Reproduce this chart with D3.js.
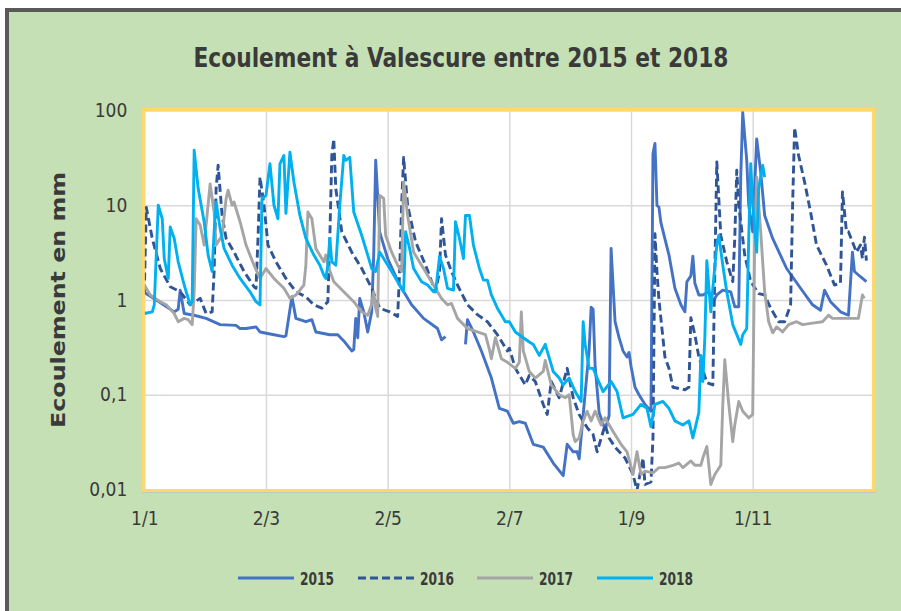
<!DOCTYPE html>
<html>
<head>
<meta charset="utf-8">
<script src="https://cdn.jsdelivr.net/npm/d3@7"></script>
<style>
  body { margin: 0; background: #fff; }
  svg { display: block; }
  text { font-family: "Liberation Sans Narrow", "DejaVu Sans Condensed", "Liberation Sans", sans-serif; fill: #3a3a3a; }
</style>
</head>
<body>
<svg width="901" height="611"></svg>
<script>
// day index (0 = 1 Jan) and flow in mm
const q2015 = [[0,1.2],[6,1.0],[15,0.75],[17,0.8],[18,1.27],[20,0.72],[25,0.69],[31,0.64],[38,0.55],[46,0.54],[48,0.5],[51,0.5],[56,0.52],[58,0.46],[65,0.43],[70,0.41],[71,0.42],[74,1.08],[76,0.64],[81,0.59],[84,0.62],[86,0.46],[93,0.43],[97,0.43],[100,0.37],[104,0.29],[105,0.3],[106,0.64],[107,0.4],[108,1.04],[110,0.75],[112,0.46],[114,0.75],[115,3],[116,29.8],[118,5.2],[122,2.74],[128,1.44],[134,0.89],[140,0.64],[147,0.5],[149,0.38],[151,0.41],[152,null],[161,0.34],[162,0.62],[165,0.46],[169,0.29],[174,0.15],[178,0.072],[182,0.067],[185,0.05],[188,0.052],[191,0.05],[195,0.03],[200,0.028],[205,0.019],[210,0.014],[212,0.03],[215,0.025],[217,0.025],[218,0.021],[223,0.3],[224,0.84],[225,0.8],[226,0.2],[228,0.065],[231,0.043],[233,0.06],[234,3.5],[236,0.59],[238,0.4],[240,0.29],[242,0.25],[243,0.28],[244,0.2],[246,0.12],[248,0.1],[251,0.079],[254,0.067],[255,35],[256,45],[257,10],[258,9.5],[259,6.5],[263,3.0],[266,1.33],[269,0.89],[271,0.75],[272,1.56],[274,1.8],[275,2.9],[276,1.5],[278,1.13],[280,1.13],[283,1.22],[285,0.96],[287,1.13],[290,1.27],[294,1.22],[296,0.85],[298,0.85],[299,20],[300,95],[302,30],[303,10],[305,5.25],[307,50],[309,22.4],[311,7.8],[315,4.46],[322,2.15],[329,1.33],[335,0.89],[339,0.78],[341,1.27],[344,0.96],[349,0.75],[353,0.69],[354,1.5],[355,3.2],[356,2.0],[359,1.76],[362,1.56]];

const q2016 = [[0,1.2],[1,9.5],[4,4.46],[8,2.15],[13,1.38],[18,1.22],[23,0.89],[28,1.04],[31,0.72],[34,0.75],[35,2.0],[36,15],[37,26.4],[39,7.8],[41,4.46],[45,3.2],[50,2.0],[55,1.38],[56,1.33],[57,4.46],[58,19.8],[60,10],[62,3.8],[66,2.53],[71,1.69],[76,1.22],[81,1.08],[85,0.89],[89,0.82],[92,0.96],[93,4.46],[94,33.5],[95,50],[96,15],[99,5.25],[104,3.2],[109,2.15],[114,1.33],[118,0.82],[123,0.75],[127,0.67],[128,2.0],[129,10],[130,32],[132,10],[136,4.1],[141,2.33],[146,1.22],[148,2.0],[149,7.2],[151,2.98],[154,2.0],[157,1.44],[162,0.89],[167,0.7],[172,0.59],[177,0.43],[182,0.29],[183,0.31],[186,0.19],[191,0.127],[193,0.16],[196,0.138],[200,0.079],[202,0.062],[204,0.138],[208,0.093],[212,0.19],[215,0.093],[218,0.062],[222,0.045],[225,0.038],[227,0.025],[231,0.048],[233,0.035],[236,0.028],[241,0.0215],[245,0.0144],[247,0.0098],[250,0.0215],[251,0.0113],[254,0.012],[255,0.035],[256,5],[257,2.0],[258,1.0],[261,0.25],[263,0.19],[265,0.12],[271,0.113],[273,0.12],[274,0.65],[276,0.43],[278,0.25],[282,0.134],[285,0.127],[286,2],[287,28.6],[289,4.8],[292,2.53],[295,1.56],[296,4.46],[297,23.4],[298,10],[301,2.98],[304,1.56],[308,1.17],[311,1.13],[314,0.82],[318,0.59],[321,0.59],[324,0.89],[325,10],[326,66],[328,33.5],[331,17.6],[334,8.5],[337,3.8],[342,2.33],[346,1.44],[349,1.5],[350,13.8],[352,5.25],[353,5.25],[355,4.1],[357,3.2],[359,3.8],[360,2.74],[361,4.6],[362,2.6]];

const q2017 = [[0,1.44],[3,1.13],[8,0.96],[11,0.89],[15,0.72],[17,0.59],[20,0.64],[22,0.62],[24,0.55],[25,1.22],[26,7.2],[28,6.2],[30,3.8],[33,16.8],[35,8.5],[36,3.8],[39,4.8],[41,11.7],[42,14.4],[44,10],[45,10.8],[48,6.7],[51,3.8],[55,2.33],[58,1.69],[61,2.15],[65,1.69],[70,1.33],[73,1.04],[76,1.13],[78,1.27],[80,1.44],[81,2.33],[82,8.5],[84,7.2],[86,3.5],[89,2.74],[90,2.53],[91,2.98],[92,2.33],[95,1.56],[100,1.22],[105,0.96],[109,0.75],[112,0.69],[114,0.9],[115,1.22],[116,0.82],[117,0.67],[118,12.7],[120,11.8],[121,4.8],[124,3.2],[127,2.33],[129,2.0],[130,17.6],[132,7.8],[135,3.2],[139,2.33],[144,1.56],[149,1.04],[152,0.89],[154,0.92],[157,0.64],[162,0.5],[167,0.46],[171,0.43],[173,0.3],[174,0.24],[176,0.4],[179,0.24],[182,0.22],[186,0.19],[188,0.22],[189,0.75],[190,0.29],[193,0.176],[196,0.15],[200,0.176],[201,0.23],[204,0.127],[208,0.1],[211,0.093],[213,0.1],[215,0.038],[216,0.032],[218,0.035],[220,0.053],[222,0.067],[224,0.053],[226,0.067],[229,0.048],[231,0.057],[235,0.041],[239,0.03],[242,0.025],[245,0.0144],[247,0.025],[249,0.0144],[251,0.0156],[255,0.015],[258,0.017],[261,0.017],[265,0.018],[268,0.019],[270,0.017],[274,0.02],[276,0.018],[279,0.018],[280,0.0215],[282,0.0285],[283,0.018],[284,0.0113],[286,0.0144],[289,0.018],[290,0.079],[291,0.234],[293,0.079],[295,0.032],[296,0.048],[298,0.085],[300,0.067],[303,0.057],[305,0.062],[306,4.46],[307,19.8],[309,5.25],[311,1.22],[313,0.59],[315,0.45],[317,0.52],[320,0.46],[323,0.55],[327,0.59],[330,0.55],[335,0.57],[340,0.59],[343,0.69],[345,0.64],[350,0.64],[355,0.64],[358,0.64],[360,1.13],[361,1.04]];

const q2018 = [[0,0.72],[4,0.75],[5,0.89],[7,10],[9,7.2],[10,2.74],[12,1.69],[13,5.9],[15,4.46],[17,2.53],[20,1.44],[23,0.89],[24,0.96],[25,38],[27,15],[30,6.7],[32,2.98],[34,2.0],[35,5.25],[36,10.8],[38,5.7],[40,3.5],[44,2.33],[48,1.69],[53,1.22],[56,0.96],[58,0.89],[59,11.7],[61,12.7],[63,27.4],[65,10],[67,7.2],[68,27.4],[70,33.5],[71,8.2],[73,36.3],[75,17.6],[78,7.8],[81,4.46],[85,2.98],[88,2.33],[90,1.83],[91,1.69],[92,2.33],[93,4.46],[94,2.53],[96,2.33],[98,10],[100,33.5],[101,29.8],[103,32],[105,8.5],[109,4.8],[112,2.98],[114,2.15],[116,2.0],[118,3.2],[120,2.74],[124,2.0],[127,1.56],[130,1.22],[131,5.25],[133,3.5],[135,2.15],[139,1.56],[142,1.44],[145,1.22],[146,1.22],[148,2.86],[150,2.15],[152,1.33],[155,1.27],[156,6.7],[158,4.46],[160,2.74],[161,7.8],[163,7.8],[165,3.8],[168,2.15],[170,1.62],[172,1.62],[174,1.13],[177,0.82],[181,0.59],[183,0.59],[186,0.46],[190,0.4],[193,0.36],[195,0.34],[198,0.26],[201,0.34],[205,0.176],[208,0.15],[210,0.127],[213,0.15],[216,0.108],[219,0.085],[220,0.59],[221,0.34],[223,0.19],[225,0.19],[227,0.15],[230,0.108],[234,0.138],[237,0.108],[240,0.057],[245,0.062],[249,0.079],[252,0.072],[254,0.046],[256,0.079],[260,0.085],[263,0.072],[266,0.053],[270,0.048],[273,0.053],[275,0.035],[277,0.053],[278,0.065],[279,0.26],[280,0.138],[281,0.4],[282,2.6],[284,0.75],[285,1.33],[287,3.8],[288,4.8],[290,2.33],[292,1.22],[295,0.55],[299,0.34],[300,0.43],[302,0.5],[303,4.46],[304,27.4],[305,10],[307,3.2],[308,15],[310,26.4],[311,19.8]];

const tickDays = [0, 61, 122, 183, 244, 305];
const tickLabels = ['1/1', '2/3', '2/5', '2/7', '1/9', '1/11'];
const yTicks = [0.01, 0.1, 1, 10, 100];
const yTickLabels = ['0,01', '0,1', '1', '10', '100'];

const series = [
  { name: '2015', data: q2015, color: '#4472c4', dash: null },
  { name: '2016', data: q2016, color: '#2f5597', dash: '8,4' },
  { name: '2017', data: q2017, color: '#a5a5a5', dash: null },
  { name: '2018', data: q2018, color: '#00b0f0', dash: null }
];

const svg = d3.select('svg');
const plotL = 144.3, plotR = 872.4, plotT = 110.5, plotB = 489.5;

// outer chart area
svg.append('rect').attr('x', 7).attr('y', 10).attr('width', 1000).attr('height', 1000)
  .attr('fill', '#c5e0b4').attr('stroke', '#595959').attr('stroke-width', 4);

const xScale = d3.scaleLinear().domain([0, 365]).range([plotL, plotR]);
const yScale = d3.scaleLog().domain([0.01, 100]).range([plotB, plotT]);

svg.append('rect').attr('x', plotL).attr('y', plotT).attr('width', plotR - plotL).attr('height', plotB - plotT)
  .attr('fill', '#fff');

// gridlines
const gridX = d3.axisBottom(xScale).tickValues(tickDays).tickSize(-(plotB - plotT)).tickFormat('');
const gridY = d3.axisLeft(yScale).tickValues(yTicks).tickSize(-(plotR - plotL)).tickFormat('');
svg.append('g').attr('transform', `translate(0,${plotB})`).call(gridX)
  .call(g => g.select('.domain').remove())
  .selectAll('line').attr('stroke', '#d9d9d9').attr('stroke-width', 1.5);
svg.append('g').attr('transform', `translate(${plotL},0)`).call(gridY)
  .call(g => g.select('.domain').remove())
  .selectAll('line').attr('stroke', '#d9d9d9').attr('stroke-width', 1.5);

svg.append('clipPath').attr('id', 'plot')
  .append('rect').attr('x', plotL).attr('y', plotT - 1).attr('width', plotR - plotL).attr('height', plotB - plotT + 1);

const line = d3.line()
  .defined(d => d[1] != null)
  .x(d => xScale(d[0]))
  .y(d => yScale(d[1]));

const lines = svg.append('g').attr('clip-path', 'url(#plot)');
series.forEach(s => {
  lines.append('path')
    .attr('d', line(s.data))
    .attr('fill', 'none')
    .attr('stroke', s.color)
    .attr('stroke-width', 2.9)
    .attr('stroke-linejoin', 'round')
    .attr('stroke-dasharray', s.dash);
});

// frame
svg.append('line').attr('x1', plotL - 2).attr('x2', plotR + 3).attr('y1', plotB + 2.5).attr('y2', plotB + 2.5)
  .attr('stroke', '#bfbfbf').attr('stroke-width', 1.5);
svg.append('rect').attr('x', plotL - 1).attr('y', plotT - 1).attr('width', plotR - plotL + 2).attr('height', plotB - plotT + 2)
  .attr('fill', 'none').attr('stroke', '#ffd966').attr('stroke-width', 3);

// axis labels
const xAxis = d3.axisBottom(xScale).tickValues(tickDays).tickSize(0).tickPadding(22)
  .tickFormat((d, i) => tickLabels[i]);
svg.append('g').attr('transform', `translate(0,${plotB})`).call(xAxis)
  .call(g => g.select('.domain').remove())
  .attr('font-family', null)
  .selectAll('text').style('font-size', '19px').attr('fill', '#262626');

const yAxis = d3.axisLeft(yScale).tickValues(yTicks).tickSize(0).tickPadding(17)
  .tickFormat((d, i) => yTickLabels[i]);
svg.append('g').attr('transform', `translate(${plotL},0)`).call(yAxis)
  .call(g => g.select('.domain').remove())
  .attr('font-family', null)
  .selectAll('text').style('font-size', '19px').attr('fill', '#262626');

svg.append('text')
  .attr('x', 461).attr('y', 67)
  .attr('text-anchor', 'middle')
  .attr('textLength', 535).attr('lengthAdjust', 'spacingAndGlyphs')
  .style('font-size', '27px').style('font-weight', 'bold')
  .text('Ecoulement à Valescure entre 2015 et 2018');

svg.append('text')
  .attr('transform', 'translate(65,300) rotate(-90)')
  .attr('text-anchor', 'middle')
  .attr('textLength', 256).attr('lengthAdjust', 'spacingAndGlyphs')
  .style('font-size', '20px').style('font-weight', 'bold')
  .text('Ecoulement en mm');

// legend
const legendX = [238, 358, 477, 597];
const legend = svg.append('g');
series.forEach((s, i) => {
  legend.append('line')
    .attr('x1', legendX[i]).attr('x2', legendX[i] + 56)
    .attr('y1', 578).attr('y2', 578)
    .attr('stroke', s.color).attr('stroke-width', 3)
    .attr('stroke-dasharray', s.dash);
  legend.append('text')
    .attr('x', legendX[i] + 62).attr('y', 584.5)
    .attr('textLength', 34).attr('lengthAdjust', 'spacingAndGlyphs')
    .style('font-size', '17px').style('font-weight', 'bold')
    .text(s.name);
});
</script>
</body>
</html>
